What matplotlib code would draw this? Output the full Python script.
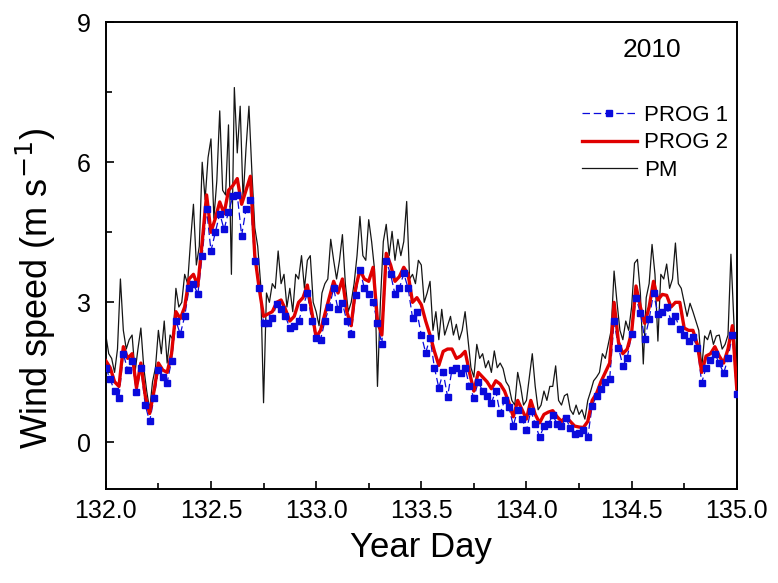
import numpy as np
import matplotlib
matplotlib.use('Agg')
import matplotlib.pyplot as plt
from matplotlib.lines import Line2D

plt.rcParams['font.family'] = ['Liberation Sans', 'DejaVu Sans']

# model output every 30 min, day 132.0 .. 135.0
prog1 = [1.6, 1.35, 1.1, 0.96, 1.9, 1.55, 1.75, 1.07, 1.6, 0.8,
         0.45, 0.95, 1.55, 1.4, 1.28, 1.75, 2.6, 2.32, 2.7, 3.3,
         3.4, 3.17, 4.0, 5.0, 4.1, 4.5, 4.9, 4.56, 4.94, 5.27,
         5.3, 4.43, 5.0, 5.2, 3.88, 3.3, 2.56, 2.56, 2.67, 2.96,
         2.85, 2.7, 2.45, 2.5, 2.6, 2.9, 3.2, 2.6, 2.23, 2.2,
         2.6, 2.9, 3.3, 2.85, 2.98, 2.6, 2.33, 3.15, 3.7, 3.3,
         3.17, 3.0, 2.56, 2.1, 3.88, 3.6, 3.17, 3.3, 3.62, 3.3,
         2.67, 2.8, 2.3, 1.92, 2.24, 1.6, 1.17, 1.5, 0.98, 1.56,
         1.6, 1.48, 1.6, 1.2, 0.96, 1.3, 1.1, 1.0, 0.85, 1.1,
         0.62, 0.9, 0.75, 0.36, 0.7, 0.5, 0.26, 0.68, 0.4, 0.11,
         0.35, 0.4, 0.58, 0.4, 0.36, 0.53, 0.3, 0.19, 0.2, 0.26,
         0.11, 0.79, 1.0, 1.15, 1.3, 1.36, 2.6, 2.03, 1.64, 1.81,
         2.32, 3.1, 2.77, 2.22, 2.64, 3.2, 2.75, 2.8, 2.9, 2.6,
         2.7, 2.43, 2.3, 2.18, 2.25, 2.03, 1.28, 1.6, 1.76, 1.9,
         1.7, 1.48, 1.8, 2.3, 1.03]

prog2 = [1.75, 1.6, 1.3, 1.2, 2.05, 1.8, 1.9, 1.17, 1.7, 1.0,
         0.62, 1.1, 1.7, 1.55, 1.5, 1.9, 2.8, 2.65, 2.9, 3.5,
         3.6, 3.35, 4.3, 5.3, 4.5, 4.8, 5.15, 4.9, 5.4, 5.5,
         5.65, 5.1, 5.4, 5.7, 4.0, 3.3, 2.7, 2.75, 2.8, 3.0,
         3.05, 2.85, 2.6, 2.7, 3.0, 3.1, 3.37, 2.8, 2.25, 2.4,
         2.75, 3.1, 3.45, 3.2, 3.5, 2.8, 2.5, 3.3, 3.7, 3.5,
         3.45, 3.75, 2.6, 2.3, 4.05, 3.8, 3.45, 3.55, 3.75, 3.6,
         3.0, 3.1, 2.95, 2.6, 2.3, 1.95, 1.65, 1.95, 2.0, 2.0,
         1.8, 1.85, 1.95, 1.5, 1.1, 1.5, 1.4, 1.3, 1.15, 1.32,
         1.25, 1.1, 0.85, 0.55, 0.9, 0.7, 0.5, 0.9, 0.6, 0.42,
         0.6, 0.65, 0.68, 0.55, 0.45, 0.55, 0.45, 0.35, 0.33, 0.32,
         0.45, 0.9, 1.05, 1.3, 1.5, 1.7, 3.0, 2.15, 1.9, 2.0,
         2.35, 3.35, 2.9, 2.55, 2.9, 3.45, 3.05, 3.17, 3.15, 2.9,
         3.0, 3.0, 2.45, 2.4, 2.4, 2.1, 1.5, 1.85, 1.9, 2.05,
         1.85, 1.7, 2.0, 2.5, 1.15]

# observations every 20 min
pm = [2.3, 1.9, 1.8, 1.5, 2.0, 3.5, 2.4, 2.0, 2.2, 2.3, 1.5, 2.0,
      2.45, 1.6, 1.1, 0.7, 1.3, 1.6, 2.4, 1.9, 2.6, 1.7, 2.3, 2.2,
      3.3, 2.9, 3.0, 3.6, 3.4, 4.3, 5.1, 3.8, 4.2, 6.0, 5.2, 6.1,
      6.5, 4.8, 5.6, 7.1, 5.4, 5.3, 6.8, 3.6, 7.6, 6.2, 7.2, 5.2,
      6.3, 7.2, 5.8, 4.6, 4.2, 3.4, 0.85, 3.2, 3.0, 3.4, 3.3, 4.1,
      3.4, 3.6, 2.9, 3.3, 2.8, 3.6, 3.5, 4.0, 3.3, 3.9, 4.0, 3.0,
      2.8, 2.5, 3.2, 3.4, 3.5, 4.35, 3.9, 3.5, 3.9, 4.45, 3.4, 2.8,
      3.0, 3.4, 4.0, 4.84, 4.0, 3.9, 4.77, 4.3, 3.7, 1.2, 3.0, 4.3,
      4.67, 4.0, 4.52, 3.9, 4.35, 4.0, 4.3, 5.16, 3.5, 3.6, 3.4, 3.9,
      3.8, 3.0, 3.2, 3.45, 2.4, 2.8, 2.2, 2.85, 2.3, 2.5, 2.7, 2.3,
      2.53, 2.2, 2.4, 2.8, 2.2, 1.6, 1.4, 2.1, 1.8, 1.9, 1.6, 1.75,
      1.5, 1.96, 1.6, 1.7, 1.58, 1.3, 1.2, 0.9, 0.8, 1.5, 1.2, 0.8,
      0.9, 1.4, 1.9, 1.2, 0.7, 0.8, 1.1, 0.9, 1.2, 1.2, 1.64, 0.9,
      0.8, 1.0, 1.04, 0.7, 0.6, 0.8, 0.6, 0.7, 0.5, 0.9, 1.1, 1.32,
      1.4, 1.5, 1.9, 1.8, 2.1, 2.4, 3.67, 3.0, 2.4, 2.2, 2.6, 2.4,
      2.9, 3.84, 3.92, 3.2, 1.68, 3.1, 3.4, 4.24, 3.6, 2.17, 3.6, 3.5,
      3.82, 3.3, 3.5, 4.27, 3.4, 3.3, 3.0, 2.7, 2.98, 2.8, 2.6, 2.4,
      1.6, 2.28, 2.2, 2.4, 2.1, 2.28, 2.3, 2.0, 2.1, 2.3, 4.03, 2.6,
      1.17]

t_prog = 132 + np.arange(len(prog2)) / 48.0
t_pm = 132 + np.arange(len(pm)) / 72.0

blue = '#0a0adc'
red = '#e00000'
black = '#151515'

fig = plt.figure(figsize=(7.78, 5.83), dpi=100)
ax = fig.add_axes([0.136, 0.161, 0.811, 0.801])

ax.plot(t_pm, pm, color=black, lw=0.9, zorder=1)
ax.plot(t_prog, prog1, color=blue, lw=0.9, ls=(0, (6, 3)), zorder=2)
ax.plot(t_prog, prog2, color=red, lw=2.4, zorder=3)
ax.plot(t_prog, prog1, ls='none', marker='s', ms=3.8, mec=blue, mfc=blue, zorder=4)

ax.set_xlim(132, 135)
ax.set_ylim(-1, 9)
ax.set_xticks([132.0, 132.5, 133.0, 133.5, 134.0, 134.5, 135.0])
ax.set_xticks([132.25, 132.75, 133.25, 133.75, 134.25, 134.75], minor=True)
ax.set_yticks([0, 3, 6, 9])
ax.set_yticks([1.5, 4.5, 7.5], minor=True)
ax.set_xticklabels(['132.0', '132.5', '133.0', '133.5', '134.0', '134.5', '135.0'])
ax.tick_params(which='both', direction='in', labelsize=18, top=False, right=False)
ax.tick_params(axis='x', which='both', pad=7)
ax.tick_params(axis='y', which='both', pad=11)
ax.tick_params(which='major', length=6, width=1.2)
ax.tick_params(which='minor', length=4, width=1.2)
for s in ax.spines.values():
    s.set_linewidth(1.4)

ax.set_xlabel('Year Day', fontsize=25, labelpad=6)
ax.set_ylabel('Wind speed (m s$^{-1}$)', fontsize=26)
ax.yaxis.set_label_coords(-0.076, 0.43)

ax.text(0.865, 0.94, '2010', transform=ax.transAxes, fontsize=19,
        ha='center', va='center')

handles = [Line2D([], [], color=blue, lw=0.9, ls=(0, (6, 3)), marker='s', ms=3.8),
           Line2D([], [], color=red, lw=2.4),
           Line2D([], [], color=black, lw=0.9)]
ax.legend(handles, ['PROG 1', 'PROG 2', 'PM'], loc='upper left',
          bbox_to_anchor=(0.74, 0.842), frameon=False, fontsize=16,
          handlelength=2.5, handletextpad=0.3, labelspacing=0.3, numpoints=1,
          borderaxespad=0.0)

fig.savefig('out.png', dpi=100)
